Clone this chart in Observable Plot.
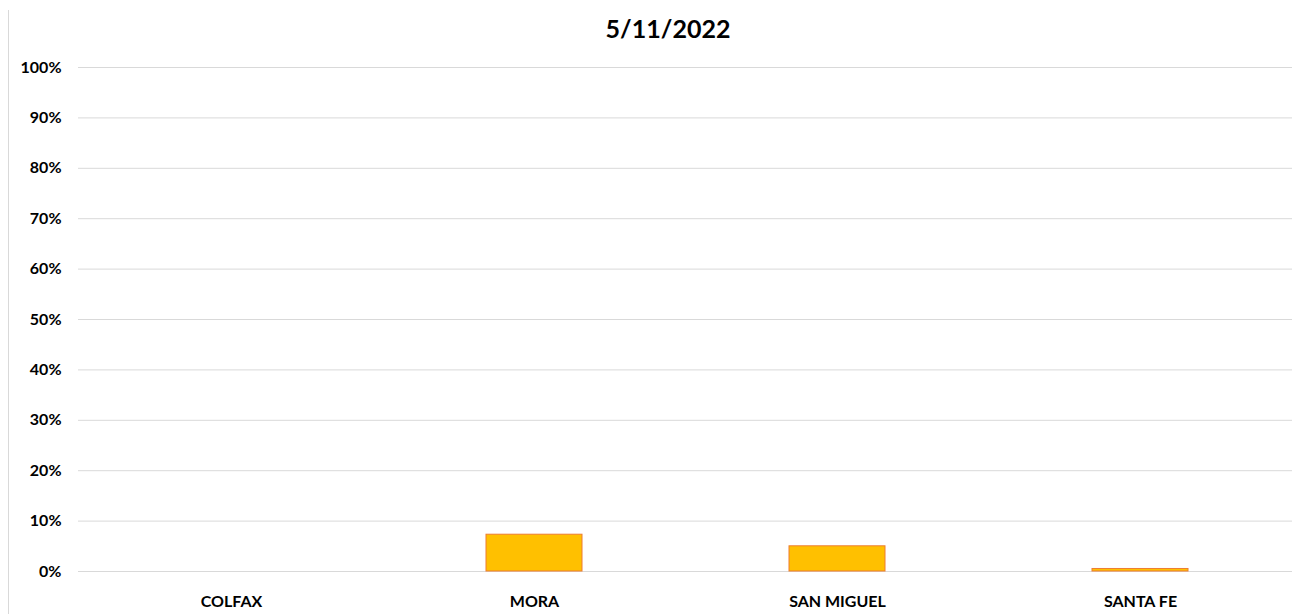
<!DOCTYPE html>
<html>
<head>
<meta charset="utf-8">
<script src="https://cdn.jsdelivr.net/npm/d3@7"></script>
<script src="https://cdn.jsdelivr.net/npm/@observablehq/plot@0.6"></script>
<style>
  html, body { margin: 0; padding: 0; background: #fff; }
  #wrap { position: relative; width: 1302px; height: 614px; overflow: hidden; font-family: Lato, "Open Sans", sans-serif; }
  #border { position: absolute; left: 8px; top: 10px; width: 1px; height: 610px; background: #d9d9d9; }
  #title { position: absolute; left: 0; top: 13px; width: 1336px; text-align: center; font-weight: bold; font-size: 25px; color: #000; }
  #chart { position: absolute; left: 0; top: 50px; }
</style>
</head>
<body>
<div id="wrap">
  <div id="border"></div>
  <div id="title">5/11/2022</div>
  <div id="chart"></div>
</div>
<script>
const categories = ["COLFAX", "MORA", "SAN MIGUEL", "SANTA FE"];
const values = [0, 0.073, 0.050, 0.005];
const yTicks = [0, 0.1, 0.2, 0.3, 0.4, 0.5, 0.6, 0.7, 0.8, 0.9, 1.0];

const data = categories.map((c, i) => ({ county: c, value: values[i] }));

const chart = Plot.plot({
  width: 1302,
  height: 564,
  marginTop: 17,
  marginBottom: 43,
  marginLeft: 78,
  marginRight: 10,
  style: { fontFamily: "Lato, 'Open Sans', sans-serif", fontSize: "16px", fontWeight: "bold", color: "#000", background: "transparent" },
  x: { domain: categories, paddingInner: 0.684, paddingOuter: 0.342, label: null, tickSize: 0, tickPadding: 24 },
  y: { domain: [0, 1], ticks: yTicks, tickFormat: d => Math.round(d * 100) + "%", label: null, tickSize: 0, tickPadding: 17 },
  marks: [
    Plot.gridY(yTicks, { stroke: "#d9d9d9", strokeOpacity: 1, strokeWidth: 1 }),
    Plot.barY(data, { x: "county", y: "value", fill: "#FFC000", stroke: "#ED7D31", strokeWidth: 1 })
  ]
});
document.getElementById("chart").appendChild(chart);
</script>
</body>
</html>
